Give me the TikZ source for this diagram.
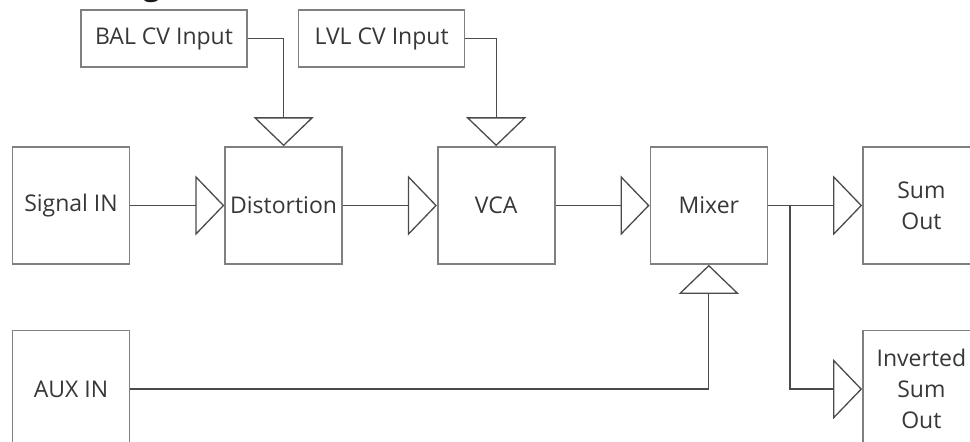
\documentclass[tikz,border=0pt]{standalone}
\usepackage{fontspec}
\setmainfont{Open Sans}
\usepackage{xcolor}
\usetikzlibrary{arrows.meta, positioning}
\definecolor{boxgray}{RGB}{128,128,128}
\definecolor{wiregray}{RGB}{75,75,75}
\definecolor{textgray}{RGB}{55,55,55}
\tikzset{
    block/.style={
        rectangle,
        draw=boxgray,
        line width=1.6pt,
        minimum width=117pt,
        minimum height=117pt,
        inner sep=2pt,
        align=center,
        text=textgray,
        font=\fontsize{23}{31}\selectfont
    },
    cvbox/.style={
        block,
        minimum width=166pt,
        minimum height=57pt
    },
    wire/.style={
        draw=wiregray,
        line width=1.3pt,
        -{Triangle[open, length=29pt, width=60pt]}
    },
    heading/.style={
        font=\bfseries\fontsize{30}{36}\selectfont,
        text=black!90,
        anchor=base west,
        inner sep=0pt
    }
}
\begin{document}
\begin{tikzpicture}[x=1pt, y=1pt, node distance=94pt]
\useasboundingbox (0,0) rectangle (970,-442);
\clip (0,0) rectangle (970,-442);
\fill[white] (0,0) rectangle (970,-442);

% Heading (cut off at the top)
\node[heading] (title) at (4,5) {Block Diagram};

% Main signal path
\node[block] (sigin) at (71,-205.5) {Signal IN};
\node[block, right=of sigin] (dist) {Distortion};
\node[block, right=of dist] (vca) {VCA};
\node[block, right=of vca] (mixer) {Mixer};
\node[block, right=of mixer] (sumout) {Sum\\Out};

% CV inputs
\node[cvbox] (balcv) at (164,-38.5) {BAL CV Input};
\node[cvbox, right=50pt of balcv] (lvlcv) {LVL CV Input};

% Lower row
\node[block, below=65pt of sigin] (auxin) {AUX IN};
\node[block, below=65pt of sumout] (invout) {Inverted\\Sum\\Out};

\coordinate[right=22pt of mixer] (split);

\draw[wire] (sigin) -- (dist);
\draw[wire] (dist) -- (vca);
\draw[wire] (vca) -- (mixer);
\draw[wire] (mixer) -- (sumout);
\draw[wire] (balcv) -| (dist);
\draw[wire] (lvlcv) -| (vca);
\draw[wire] (auxin) -| (mixer);
\draw[wire] (split) |- (invout);

\end{tikzpicture}
\end{document}
